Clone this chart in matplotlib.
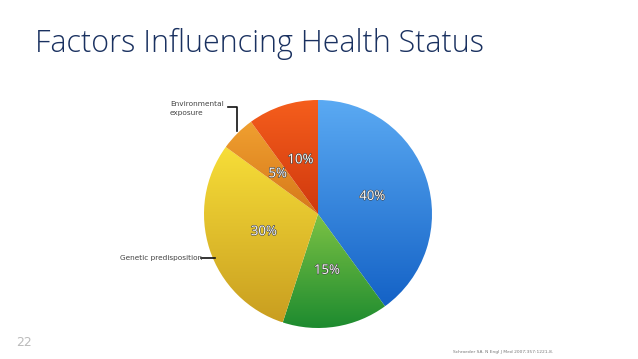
import numpy as np
import matplotlib.pyplot as plt
import matplotlib.patheffects as pe
from matplotlib.colors import LinearSegmentedColormap

# data, clockwise from 12 o'clock
shares = [40, 15, 30, 5, 10]
pct_labels = ["40%", "15%", "30%", "5%", "10%"]
# top / bottom colours of each slice gradient
tops = ["#5BAAF3", "#7CC244", "#F7DE38", "#F0A030", "#F55E1C"]
bottoms = ["#1462C6", "#1C8A2F", "#C99E20", "#D6781A", "#D0380E"]

W, H = 638, 359
fig = plt.figure(figsize=(W / 100, H / 100), dpi=100)
fig.patch.set_facecolor("white")

# pie centre (318, 214) px, radius 114 px
cx, cy, r = 318, 214, 114
ax = fig.add_axes([(cx - r) / W, (H - cy - r) / H, 2 * r / W, 2 * r / H])
wedges, texts, autotexts = ax.pie(shares, startangle=90, counterclock=False,
                                  radius=1, autopct="%d%%", pctdistance=0.5,
                                  wedgeprops=dict(linewidth=0))
ax.set_xlim(-1, 1)
ax.set_ylim(-1, 1)
ax.set_aspect("equal")
ax.axis("off")

# gradient fill clipped to each wedge
for w, t, b in zip(wedges, tops, bottoms):
    w.set_facecolor("none")
    verts = w.get_path().vertices
    y0, y1 = verts[:, 1].min(), verts[:, 1].max()
    x0, x1 = verts[:, 0].min(), verts[:, 0].max()
    cmap = LinearSegmentedColormap.from_list("g", [b, t])
    grad = np.linspace(0, 1, 256).reshape(-1, 1)
    im = ax.imshow(grad, cmap=cmap, extent=[x0, x1, y0, y1], origin="lower",
                   aspect="auto", zorder=1)
    im.set_clip_path(w)

for at, lab in zip(autotexts, pct_labels):
    at.set_text(lab)
    at.set_color("white")
    at.set_fontsize(9.5)
    at.set_family("Open Sans")
    at.set_zorder(5)
    at.set_path_effects([pe.withStroke(linewidth=0.8, foreground="#404040")])

# overlay axes in pixel coordinates for text and callouts
ov = fig.add_axes([0, 0, 1, 1])
ov.set_xlim(0, W)
ov.set_ylim(H, 0)
ov.axis("off")
ov.patch.set_alpha(0)

ov.text(35, 44, "Factors Influencing Health Status", fontsize=22,
        color="#1A3160", family="Open Sans", fontweight="light",
        va="center", ha="left")

ov.text(170, 109, "Environmental\nexposure", fontsize=5.3, color="#444444",
        va="center", ha="left", linespacing=1.6)
ov.plot([228, 237, 237], [107, 107, 131], color="#111111", lw=1.2)

ov.text(120, 258, "Genetic predisposition", fontsize=5.3, color="#444444",
        va="center", ha="left")
ov.plot([201, 215], [258, 258], color="#111111", lw=1.2)

ov.text(16, 342, "22", fontsize=9, color="#BBBBBB", va="center", ha="left")
ov.text(453, 352, "Schroeder SA. N Engl J Med 2007;357:1221-8.", fontsize=3.2,
        color="#777777", va="center", ha="left")

fig.savefig("out.png", dpi=100, facecolor="white")
